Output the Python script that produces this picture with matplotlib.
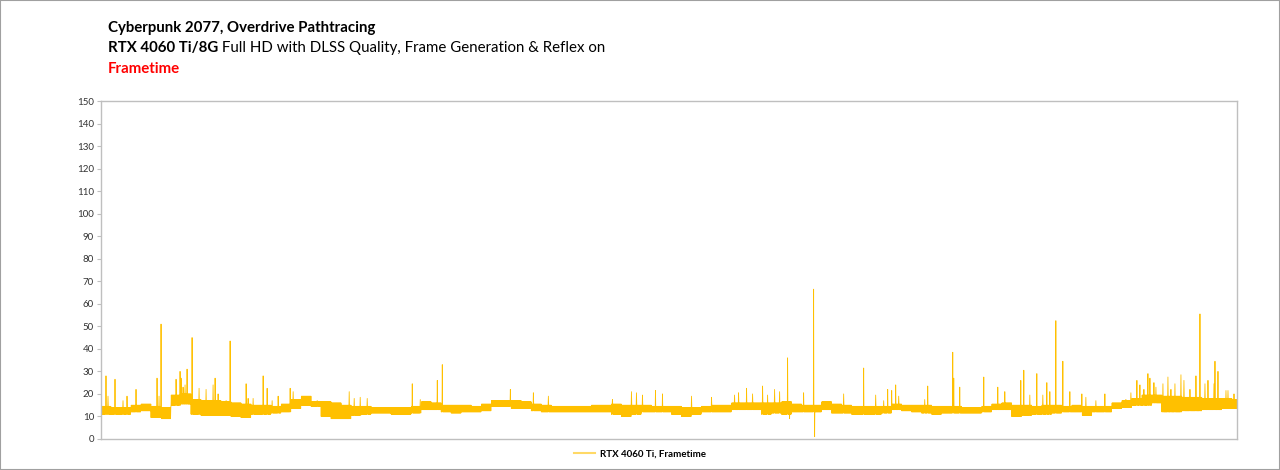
import matplotlib
matplotlib.use("Agg")
import matplotlib.pyplot as plt
from matplotlib.lines import Line2D
from matplotlib.patches import Rectangle

plt.rcParams['font.family'] = ['Lato', 'DejaVu Sans']

# band of the frametime trace, one entry per block of 40 frames (low / high edge, ms)
band_lo = [11, 11, 11, 12, 12.5, 9.5, 9, 15, 15.5, 11, 10.5, 10.5, 10.5, 10, 9.5, 11, 11, 11.5, 12, 13.5,
           15, 14.5, 10, 9, 9, 10.5, 11, 11.5, 11.5, 11, 11, 11.5, 13, 13, 12, 11.5, 12, 12, 12.5, 14.5,
           14.5, 13.5, 13.5, 12.5, 12, 12, 12, 12, 12, 12, 12, 11, 10, 11, 12, 12, 12, 11, 10, 11,
           12, 12, 12, 13, 13, 13, 11, 11.5, 11, 12, 12, 12, 13, 11.5, 11.5, 11, 11, 11, 11.5, 13,
           12.5, 12, 11.5, 11, 11.5, 11.5, 11.5, 11.5, 12, 13, 13, 10, 10.5, 11, 11, 11.5, 12, 12, 10.5, 12,
           12, 13.5, 14, 15, 15, 16, 12, 12, 12.5, 12.5, 13, 13, 13.5, 13.5]
band_hi = [14.5, 14, 14, 15, 15.5, 14.5, 14, 19.5, 20, 17.5, 17, 17, 16.5, 16, 15.5, 15, 15, 14.5, 15.5, 17.5,
           19, 16.5, 16.5, 16, 15, 14.5, 14.5, 14, 14, 14, 14, 14.5, 16.5, 16, 15, 15, 15, 14.5, 15.5, 17,
           17, 17, 16.5, 15.5, 15, 14.5, 14.5, 14.5, 14.5, 15, 15, 15.5, 15, 15, 15, 14.5, 14.5, 14.5, 14, 14,
           14.5, 15, 15, 16, 16, 16, 16, 16, 16.5, 15.5, 15, 15, 16.5, 15.5, 15, 14.5, 14.5, 14.5, 14.5, 15.5,
           15, 15, 15, 14.5, 14.5, 14.5, 14, 14, 14.5, 15.5, 16, 15, 15, 14.5, 15, 15, 14.5, 15, 14.5, 14.5,
           14.5, 16, 17, 18, 19.5, 19.5, 19, 19, 18.5, 18.5, 18, 18, 18, 17.5]
frames_per_block = 40

# single frames that stick out of the band (frame number, ms)
spike_frame = [20, 28, 56, 88, 104, 140, 224, 232, 240, 300, 316, 320, 328, 336, 344, 364, 392, 420, 448, 456,
               468, 500, 516, 580, 588, 608, 648, 664, 684, 708, 756, 768, 864, 992, 1012, 1036, 1064, 1244, 1276, 1344,
               1364, 1636, 1728, 1788, 2044, 2120, 2140, 2164, 2216, 2244, 2360, 2440, 2532, 2548, 2580, 2604, 2644, 2664, 2692, 2712,
               2744, 2752, 2808, 2848, 2852, 2968, 3048, 3096, 3128, 3144, 3160, 3176, 3188, 3292, 3304, 3404, 3408, 3432, 3528, 3584,
               3612, 3676, 3688, 3712, 3740, 3764, 3780, 3792, 3816, 3844, 3872, 3920, 3936, 3976, 4012, 4096, 4116, 4140, 4152, 4168,
               4184, 4192, 4208, 4216, 4244, 4264, 4276, 4292, 4316, 4328, 4352, 4376, 4392, 4412, 4424, 4448, 4452, 4464, 4496, 4504,
               4528]
spike_ms = [28, 19, 26.5, 17, 19, 22, 27, 19, 51, 26.5, 30, 27, 23, 24, 31, 45, 22.5, 22, 24, 27,
            20, 17, 43.5, 24.5, 18, 18, 28, 22.5, 17, 19, 22.5, 21, 17, 21, 18, 18.5, 18, 24.5, 17.5, 26,
            33, 22, 20.5, 19, 17.5, 21, 20.5, 19.5, 21.5, 20, 19, 18.5, 19.5, 20.5, 22.5, 20, 23.5, 19.5, 22, 21,
            36, 9, 20.5, 66.5, 1, 20, 31.5, 19.5, 17, 22, 21.5, 24, 19, 17.5, 23.5, 38.5, 27, 23, 27.5, 23,
            21, 26, 30.5, 19.5, 29, 19.5, 25, 21, 52.5, 34.5, 21, 20, 18.5, 17, 20, 17.5, 20.5, 26, 24, 22,
            29, 27, 25, 23, 24.5, 27.5, 22, 24.5, 28.5, 26, 22, 28, 55.5, 24.5, 26, 24.5, 34.5, 30, 21.5, 21.5,
            20]

# build the trace: frames flicker between band edges, spikes replace single frames
frametime = []
for lo, hi in zip(band_lo, band_hi):
    for k in range(frames_per_block):
        frametime.append(hi if k % 2 else lo)
for f, v in zip(spike_frame, spike_ms):
    frametime[f] = v
frames = list(range(len(frametime)))

fig = plt.figure(figsize=(12.8, 4.7), dpi=100)
ax = fig.add_axes([0.0789, 0.066, 0.8875, 0.719])

gold = '#FFC000'
ax.plot(frames, frametime, color=gold, lw=0.6)

ax.set_xlim(0, 4540)
ax.set_ylim(0, 150)
ax.set_yticks(range(0, 151, 10))
ax.set_xticks([])
ax.tick_params(axis='y', labelsize=7, length=3, color='#BFBFBF', labelcolor='#333333', pad=2)
for s in ax.spines.values():
    s.set_color('#BFBFBF')
    s.set_linewidth(1)

# titles
fig.text(0.0845, 0.941, 'Cyberpunk 2077, Overdrive Pathtracing', fontsize=10.8, fontweight='bold', va='center')
t2 = fig.text(0.0845, 0.898, 'RTX 4060 Ti/8G', fontsize=10.8, fontweight='bold', va='center')
ax.annotate(' Full HD with DLSS Quality, Frame Generation & Reflex on', xy=(1, 0.5), xycoords=t2,
            va='center', ha='left', fontsize=10.8, annotation_clip=False)
fig.text(0.0845, 0.854, 'Frametime', fontsize=10.8, fontweight='bold', color='#FF0000', va='center')

# legend
handle = Line2D([], [], color='#FFD966', lw=1.5)
fig.legend([handle], ['RTX 4060 Ti, Frametime'], loc='center', bbox_to_anchor=(0.5, 0.034),
           frameon=False, prop={'size': 7, 'weight': 'bold'}, handlelength=2.2, handletextpad=0.5)

fig.patches.append(Rectangle((0, 0), 1, 1, transform=fig.transFigure, fill=False,
                             edgecolor='#A0A0A0', lw=1.5))

fig.savefig('out.png', dpi=100)
